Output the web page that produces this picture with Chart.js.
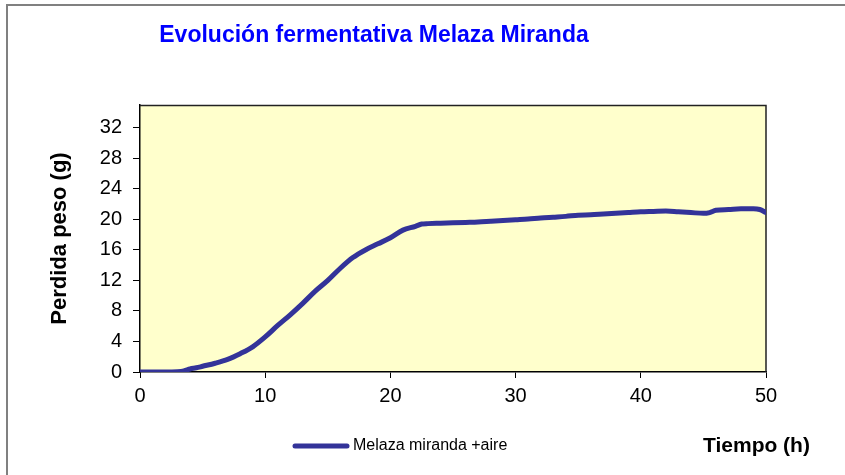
<!DOCTYPE html>
<html>
<head>
<meta charset="utf-8">
<script src="https://cdn.jsdelivr.net/npm/chart.js@4/dist/chart.umd.min.js"></script>
<style>
  html, body { margin: 0; padding: 0; background: #ffffff; }
  #c { display: block; }
</style>
</head>
<body>
<canvas id="c" width="845" height="475"></canvas>
<script>
// ---- Data ----
const chartTitle = 'Evolución fermentativa Melaza Miranda';
const seriesName = 'Melaza miranda +aire';
const xAxisTitle = 'Tiempo (h)';
const yAxisTitle = 'Perdida peso (g)';

const timeHours = [0, 1, 2, 3, 3.5, 4, 4.5, 5, 6, 7, 8, 9, 10, 11, 12, 13, 14, 15, 16, 17, 18, 19, 20,
  21, 22, 22.5, 23, 24, 25, 26, 27, 28, 29, 30, 31, 32, 33, 34, 35, 36, 37, 38, 39, 40,
  41, 42, 43, 44, 45, 45.5, 46, 47, 48, 49, 49.5, 50];
const weightLoss = [0, 0, 0, 0.05, 0.15, 0.4, 0.55, 0.75, 1.15, 1.65, 2.4, 3.3, 4.6, 6.1, 7.5, 9.0, 10.6, 12.0, 13.6, 15.0, 16.0, 16.8, 17.6,
  18.6, 19.1, 19.4, 19.45, 19.5, 19.55, 19.6, 19.65, 19.75, 19.85, 19.95, 20.05, 20.2, 20.3, 20.4, 20.55, 20.6, 20.7, 20.8, 20.9, 21.0,
  21.05, 21.1, 21.0, 20.9, 20.8, 20.9, 21.2, 21.3, 21.4, 21.4, 21.3, 20.9];

const xTicks = [0, 10, 20, 30, 40, 50];
const yTicks = [0, 4, 8, 12, 16, 20, 24, 28, 32];

// ---- Styling ----
const FONT = "'Liberation Sans', Arial, Helvetica, sans-serif";
const LINE_COLOR = '#333399';
const PLOT_BG = '#FFFFCC';

Chart.defaults.font.family = FONT;
Chart.defaults.color = '#000000';

const points = timeHours.map((t, i) => ({ x: t, y: weightLoss[i] }));

const decorPlugin = {
  id: 'decor',
  beforeDraw(chart) {
    const { ctx, chartArea: a } = chart;
    ctx.save();
    ctx.fillStyle = PLOT_BG;
    ctx.fillRect(a.left, a.top, a.right - a.left, a.bottom - a.top);
    ctx.restore();
  },
  beforeDatasetsDraw(chart) {
    const { ctx, chartArea: a } = chart;
    ctx.save();
    ctx.strokeStyle = '#222222';
    ctx.lineWidth = 1.5;
    ctx.beginPath();
    ctx.moveTo(a.left, a.top + 0.5);
    ctx.lineTo(a.right, a.top + 0.5);
    ctx.lineTo(a.right, a.bottom);
    ctx.stroke();
    ctx.restore();
  },
  afterDraw(chart) {
    const { ctx } = chart;
    ctx.save();
    // outer frame
    ctx.strokeStyle = '#808080';
    ctx.lineWidth = 2;
    ctx.beginPath();
    ctx.moveTo(7, 475);
    ctx.lineTo(7, 5);
    ctx.lineTo(845, 5);
    ctx.stroke();

    // title
    ctx.fillStyle = '#0000FF';
    ctx.font = "bold 23px " + FONT;
    ctx.textAlign = 'center';
    ctx.textBaseline = 'alphabetic';
    ctx.fillText(chartTitle, 374, 42);

    // legend
    const ly = 446;
    ctx.strokeStyle = LINE_COLOR;
    ctx.lineWidth = 5;
    ctx.lineCap = 'round';
    ctx.beginPath();
    ctx.moveTo(295, ly);
    ctx.lineTo(347, ly);
    ctx.stroke();
    ctx.fillStyle = '#000000';
    ctx.font = "16px " + FONT;
    ctx.textAlign = 'left';
    ctx.textBaseline = 'middle';
    ctx.fillText(seriesName, 353, ly);

    // x axis title
    ctx.font = "bold 21px " + FONT;
    ctx.textAlign = 'left';
    ctx.textBaseline = 'alphabetic';
    ctx.fillText(xAxisTitle, 703, 452);
    ctx.restore();
  }
};

new Chart(document.getElementById('c'), {
  type: 'line',
  data: {
    datasets: [{
      label: seriesName,
      data: points,
      borderColor: LINE_COLOR,
      backgroundColor: LINE_COLOR,
      borderWidth: 5,
      borderCapStyle: 'round',
      borderJoinStyle: 'round',
      pointRadius: 0,
      fill: false,
      cubicInterpolationMode: 'monotone'
    }]
  },
  options: {
    responsive: false,
    animation: false,
    devicePixelRatio: 1,
    layout: { padding: { left: 8, right: 79, top: 105, bottom: 63 } },
    plugins: {
      legend: { display: false },
      title: { display: false },
      tooltip: { enabled: false }
    },
    scales: {
      x: {
        type: 'linear',
        min: 0,
        max: 50,
        afterFit(scale) { scale.height = 40; },
        afterBuildTicks(scale) { scale.ticks = xTicks.map(v => ({ value: v })); },
        grid: { drawOnChartArea: false, drawTicks: true, tickLength: 6, color: '#000000' },
        border: { color: '#000000', width: 1.5 },
        ticks: { font: { size: 20 }, padding: 6, color: '#000000', maxRotation: 0 }
      },
      y: {
        type: 'linear',
        min: 0,
        max: 35,
        afterFit(scale) { scale.width = 132; },
        afterBuildTicks(scale) { scale.ticks = yTicks.map(v => ({ value: v })); },
        grid: { drawOnChartArea: false, drawTicks: true, tickLength: 7, color: '#000000' },
        border: { color: '#000000', width: 1.5 },
        ticks: { font: { size: 20 }, padding: 11, color: '#000000' },
        title: {
          display: true,
          text: yAxisTitle,
          font: { size: 22, weight: 'bold' },
          color: '#000000',
          padding: { top: 39, bottom: 0 }
        }
      }
    }
  },
  plugins: [decorPlugin]
});
</script>
</body>
</html>
